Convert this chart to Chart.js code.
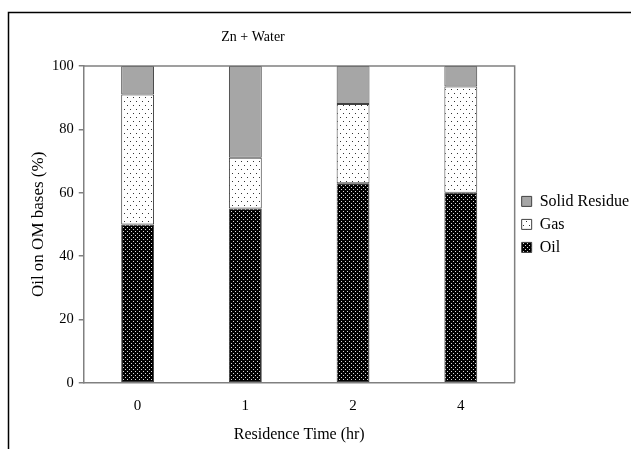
<!DOCTYPE html>
<html>
<head>
<meta charset="utf-8">
<script src="https://cdn.jsdelivr.net/npm/chart.js@4/dist/chart.umd.min.js"></script>
<style>
  html, body { margin: 0; padding: 0; background: #fff; }
</style>
</head>
<body>
<canvas id="bar-chart" width="631" height="449"></canvas>
<script>
const labels = ['0', '1', '2', '4'];
const oil = [50, 55, 63, 60];
const gas = [41, 16, 25, 33.5];
const solidResidue = [9, 29, 12, 6.5];
const yTicks = [0, 20, 40, 60, 80, 100];

// small tiled dot patterns like the old excel fills
function dotPattern(w, h, bg, dot, pts) {
  const c = document.createElement('canvas');
  c.width = w;
  c.height = h;
  const g = c.getContext('2d');
  g.fillStyle = bg;
  g.fillRect(0, 0, w, h);
  g.fillStyle = dot;
  pts.forEach(([x, y]) => g.fillRect(x, y, 1, 1));
  return g.createPattern(c, 'repeat');
}

const ctx = document.getElementById('bar-chart').getContext('2d');
const oilFill = dotPattern(4, 4, '#000', '#d8d8d8', [[1, 1], [3, 3]]);
const gasFill = dotPattern(6, 8, '#fff', '#333', [[1, 1], [4, 5]]);
const solidFill = '#a6a6a6';

const frame = {
  id: 'frame',
  beforeDraw: (chart) => {
    const c = chart.ctx;
    c.save();
    c.fillStyle = '#fff';
    c.fillRect(0, 0, chart.width, chart.height);
    c.strokeStyle = '#000';
    c.lineWidth = 1.5;
    c.beginPath();
    c.moveTo(8.5, chart.height);
    c.lineTo(8.5, 12.5);
    c.lineTo(chart.width, 12.5);
    c.stroke();
    c.restore();
  },
  afterDraw: (chart) => {
    const c = chart.ctx;
    const a = chart.chartArea;
    c.save();
    c.strokeStyle = '#808080';
    c.lineWidth = 1.5;
    c.beginPath();
    c.moveTo(a.left, a.top);
    c.lineTo(a.right, a.top);
    c.lineTo(a.right, a.bottom);
    c.stroke();
    c.fillStyle = '#000';
    c.font = '14px "Liberation Serif"';
    c.textAlign = 'center';
    c.textBaseline = 'middle';
    c.fillText('Zn + Water', 253, 37);
    c.restore();
  },
};

Chart.defaults.font.family = '"Liberation Serif", serif';
Chart.defaults.color = '#000';

const common = {
  borderColor: '#404040',
  borderWidth: 1,
  borderSkipped: false,
  barPercentage: 0.305,
  categoryPercentage: 1,
};

new Chart(ctx, {
  type: 'bar',
  data: {
    labels: labels,
    datasets: [
      { label: 'Oil', data: oil, backgroundColor: oilFill, ...common },
      { label: 'Gas', data: gas, backgroundColor: gasFill, ...common },
      { label: 'Solid Residue', data: solidResidue, backgroundColor: solidFill, ...common },
    ],
  },
  options: {
    responsive: false,
    animation: false,
    devicePixelRatio: 1,
    layout: { padding: { top: 66, left: 30, right: -8, bottom: 5 } },
    plugins: {
      title: { display: false },
      tooltip: { enabled: false },
      legend: {
        position: 'right',
        fullSize: false,
        reverse: true,
        labels: {
          boxWidth: 10,
          boxHeight: 10,
          padding: 7,
          font: { size: 16 },
        },
      },
    },
    scales: {
      x: {
        stacked: true,
        grid: { display: false },
        border: { color: '#808080', width: 1.5 },
        ticks: { font: { size: 15 }, padding: 6 },
        title: { display: true, text: 'Residence Time (hr)', font: { size: 16 }, padding: { top: 4, bottom: 0 } },
      },
      y: {
        stacked: true,
        min: 0,
        max: 100,
        afterBuildTicks: (scale) => {
          scale.ticks = yTicks.map((v) => ({ value: v }));
        },
        grid: { drawOnChartArea: false, drawTicks: true, tickLength: 5, color: '#808080', lineWidth: 1.5 },
        border: { color: '#808080', width: 1.5 },
        ticks: { font: { size: 14.5 }, padding: 5 },
        title: { display: true, text: 'Oil on OM bases (%)', font: { size: 17, lineHeight: 1 }, padding: { top: 0, bottom: 0 } },
      },
    },
  },
  plugins: [frame],
});
</script>
</body>
</html>
